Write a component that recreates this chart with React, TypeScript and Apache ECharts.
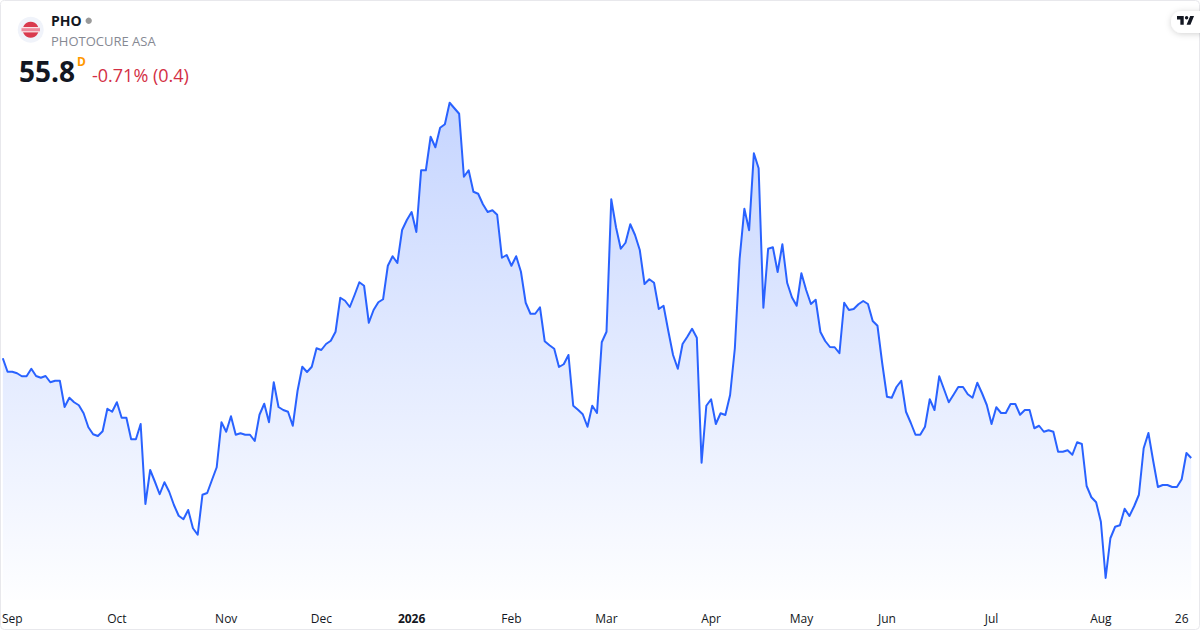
import React, { useEffect, useRef } from "react";
import * as echarts from "echarts";

const prices: number[] = [
  63.78, 62.7, 62.7, 62.58, 62.34, 62.34, 62.94, 62.36, 62.22, 62.36,
  61.86, 61.98, 61.98, 59.88, 60.62, 60.26, 60.02, 59.38, 58.26, 57.7,
  57.56, 57.94, 59.74, 59.5, 60.26, 59.02, 59.02, 57.3, 57.3, 58.52,
  52.12, 54.84, 53.9, 52.9, 53.86, 53.1, 52.04, 51.18, 50.9, 51.64,
  50.18, 49.66, 52.86, 53.0, 54.04, 55.06, 58.66, 57.9, 59.14, 57.66,
  57.78, 57.66, 57.66, 57.16, 59.26, 60.14, 58.66, 61.86, 59.88, 59.64,
  59.5, 58.38, 61.16, 63.1, 62.68, 63.1, 64.58, 64.44, 64.92, 65.18,
  65.9, 68.62, 68.38, 67.88, 68.84, 69.86, 69.58, 66.62, 67.64, 68.26,
  68.5, 71.18, 71.94, 71.4, 74.04, 74.84, 75.48, 73.88, 78.82, 78.82,
  81.5, 80.66, 82.22, 82.5, 84.22, 83.78, 83.34, 78.3, 78.82, 77.1,
  76.94, 76.1, 75.48, 75.62, 75.26, 71.82, 72.04, 71.18, 71.94, 70.7,
  68.22, 67.34, 67.34, 67.86, 65.14, 64.82, 64.54, 63.08, 63.3, 64.04,
  59.98, 59.66, 59.3, 58.3, 59.98, 59.4, 65.06, 65.9, 76.5, 74.26,
  72.54, 73.02, 74.5, 73.64, 72.44, 69.72, 70.1, 69.82, 67.72, 67.98,
  65.96, 64.04, 62.94, 64.92, 65.5, 66.14, 65.42, 55.42, 59.98, 60.5,
  58.52, 59.38, 59.24, 60.84, 64.58, 71.72, 75.74, 74.02, 80.18, 78.98,
  67.82, 72.54, 72.66, 70.68, 72.9, 69.82, 68.66, 67.98, 70.58, 69.24,
  68.12, 68.46, 65.88, 65.16, 64.68, 64.66, 64.18, 68.22, 67.64, 67.72,
  68.1, 68.36, 68.12, 66.76, 66.38, 63.38, 60.7, 60.62, 61.48, 61.98,
  59.5, 58.62, 57.66, 57.66, 58.3, 60.5, 59.64, 62.34, 61.3, 60.26,
  60.86, 61.48, 61.48, 60.9, 60.62, 61.82, 60.98, 60.04, 58.52, 59.86,
  59.4, 59.4, 60.12, 60.12, 59.26, 59.64, 59.64, 58.18, 58.38, 57.9,
  58.02, 57.9, 56.3, 56.3, 56.42, 56.06, 57.06, 56.92, 53.56, 52.66,
  52.26, 50.7, 46.2, 49.38, 50.3, 50.42, 51.74, 51.16, 51.94, 52.86,
  56.58, 57.8, 55.58, 53.48, 53.64, 53.64, 53.48, 53.48, 54.1, 56.2,
  55.8,
];

const tickIndexes = [2, 24, 47, 67, 86, 107, 127, 149, 168, 186, 208, 231, 248];
const tickLabels = ["Sep", "Oct", "Nov", "Dec", "2026", "Feb", "Mar", "Apr", "May", "Jun", "Jul", "Aug", "26"];
const categories = prices.map((_, i) => {
  const k = tickIndexes.indexOf(i);
  return k >= 0 ? tickLabels[k] : "";
});

const FONT = '"Open Sans", "Noto Sans", sans-serif';

echarts.graphic.registerShape(
  "tvLogo",
  echarts.graphic.extendPath(
    "M14 22H7V11H0V4h14v18zM28 22h-8l7.5-18h8L28 22zM20 3.9a3.6 3.6 0 1 0 0 7.2 3.6 3.6 0 0 0 0-7.2z",
    {}
  ) as any
);

export default function App() {
  const ref = useRef<HTMLDivElement>(null);
  useEffect(() => {
    document.body.style.margin = "0";
    const chart = echarts.init(ref.current!, undefined, { renderer: "svg" });
    chart.setOption({
      animation: false,
      backgroundColor: "#ffffff",
      grid: { left: 2.8, right: 8.8, top: 0, bottom: 30, containLabel: false, outerBoundsMode: "none" },
      xAxis: {
        type: "category",
        boundaryGap: false,
        data: categories,
        axisLine: { show: false },
        axisTick: { show: false },
        splitLine: { show: false },
        axisLabel: {
          interval: (i: number) => tickIndexes.includes(i),
          margin: 12,
          hideOverlap: false,
          showMinLabel: true,
          showMaxLabel: true,
          fontFamily: FONT,
          fontSize: 12,
          color: "#131722",
          formatter: (v: string) => (v === "2026" ? "{b|2026}" : v),
          rich: { b: { fontFamily: FONT, fontSize: 12, fontWeight: "bold", color: "#131722" } },
        },
      },
      yAxis: { type: "value", min: 44.44, max: 92.44, show: false },
      series: [
        {
          type: "line",
          data: prices,
          symbol: "none",
          smooth: false,
          lineStyle: { color: "#2962ff", width: 2, join: "round" },
          areaStyle: {
            color: new echarts.graphic.LinearGradient(0, 0, 0, 1, [
              { offset: 0, color: "rgba(41,98,255,0.38)" },
              { offset: 1, color: "rgba(41,98,255,0.01)" },
            ]),
          },
        },
      ],
      graphic: [
        { type: "rect", z: 10, shape: { x: 0.5, y: 0.5, width: 1199, height: 629, r: 4 }, style: { fill: "none", stroke: "#e8e8ec", lineWidth: 1 } },
        { type: "circle", z: 11, shape: { cx: 30.7, cy: 29.7, r: 13 }, style: { fill: "#f0f3fa" } },
        { type: "circle", z: 12, shape: { cx: 30.7, cy: 29.7, r: 8 }, style: { fill: "#d93a4e" } },
        { type: "rect", z: 13, shape: { x: 21.5, y: 27, width: 18.5, height: 5.4 }, style: { fill: "#fbe3e7" } },
        { type: "rect", z: 14, shape: { x: 21.5, y: 28.2, width: 18.5, height: 3 }, style: { fill: "#ee8a9c" } },
        { type: "text", z: 12, x: 51, y: 20.5, style: { text: "PHO", fontFamily: FONT, fontSize: 14, fontWeight: 700, fill: "#131722", textVerticalAlign: "middle" } },
        { type: "circle", z: 12, shape: { cx: 88.7, cy: 20.7, r: 3.2 }, style: { fill: "#9a9a9a" } },
        { type: "text", z: 12, x: 51, y: 40.5, style: { text: "PHOTOCURE ASA", fontFamily: FONT, fontSize: 13, fill: "#868993", textVerticalAlign: "middle" } },
        { type: "text", z: 12, x: 19, y: 70.5, style: { text: "55.8", fontFamily: FONT, fontSize: 28, fontWeight: 700, fill: "#131722", textVerticalAlign: "middle" } },
        { type: "text", z: 12, x: 77, y: 61, style: { text: "D", fontFamily: FONT, fontSize: 12, fontWeight: 700, fill: "#ff9800", textVerticalAlign: "middle" } },
        { type: "text", z: 12, x: 92, y: 74.5, style: { text: "-0.71% (0.4)", fontFamily: FONT, fontSize: 18, fill: "#d32f45", textVerticalAlign: "middle" } },
        {
          type: "rect", z: 12,
          shape: { x: 1171, y: 11, width: 40, height: 22, r: 11 },
          style: { fill: "#ffffff", shadowBlur: 6, shadowColor: "rgba(0,0,0,0.18)", shadowOffsetY: 1 },
        },
        { type: "tvLogo", z: 13, x: 1177, y: 14.2, scaleX: 0.48, scaleY: 0.48, style: { fill: "#131722" } },
      ],
    });
    return () => chart.dispose();
  }, []);
  return <div ref={ref} style={{ width: 1200, height: 630 }} />;
}
